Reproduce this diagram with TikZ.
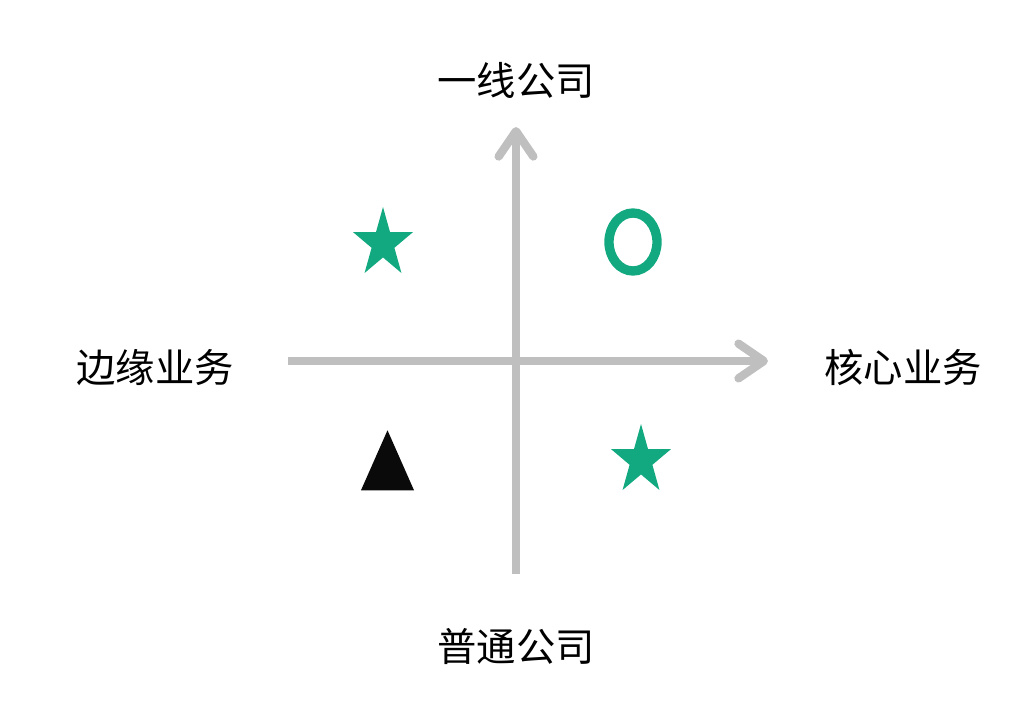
\documentclass[tikz,border=0pt]{standalone}
\usepackage{fontspec}
\setmainfont{Noto Sans CJK SC}
\usepackage{tikz}
\usetikzlibrary{shapes.geometric,arrows.meta,positioning}
\definecolor{axisgray}{RGB}{191,191,191}
\definecolor{markgreen}{RGB}{19,169,128}
\definecolor{markblack}{RGB}{10,10,10}
\begin{document}
\begin{tikzpicture}[
    x=0.75pt, y=-0.75pt,
    font=\fontsize{29.5}{35}\selectfont,
    axis/.style={draw=axisgray, line width=6.25pt, -{Straight Barb[length=19pt, width=26pt, round]}},
    axlabel/.style={inner sep=0pt, text height=0.8em, text depth=0.05em},
    starmark/.style={star, star points=5, star point ratio=2.618, fill=markgreen, inner sep=0pt, minimum size=54.75pt, xscale=0.86, transform shape},
    ringmark/.style={ellipse, draw=markgreen, line width=7pt, inner sep=0pt, minimum width=36pt, minimum height=43.5pt},
    trimark/.style={isosceles triangle, shape border rotate=90, isosceles triangle stretches, fill=markblack, inner sep=0pt, minimum width=39.75pt, minimum height=45pt}
]
\useasboundingbox (0,0) rectangle (1025,724);

% axis end points
\coordinate (xl) at (288,361);
\coordinate (xr) at (768,361);
\coordinate (yb) at (516,574);
\coordinate (yt) at (516,127);

\draw[axis] (xl) -- (xr);
\draw[axis] (yb) -- (yt);

% axis labels
\node[axlabel] (top) at (516,91) {一线公司};
\node[axlabel] (bot) at (516,656) {普通公司};
\node[axlabel] (left) at (155,377) {边缘业务};
\node[axlabel] (right) at (903,377) {核心业务};

% quadrant marks
\node[starmark] (q2) at (383,243.5) {};
\node[ringmark] (q1) at (633,242) {};
\node[trimark] (q3) at (387.5,473) {};
\node[starmark] (q4) at (641,460.5) {};
\end{tikzpicture}
\end{document}
